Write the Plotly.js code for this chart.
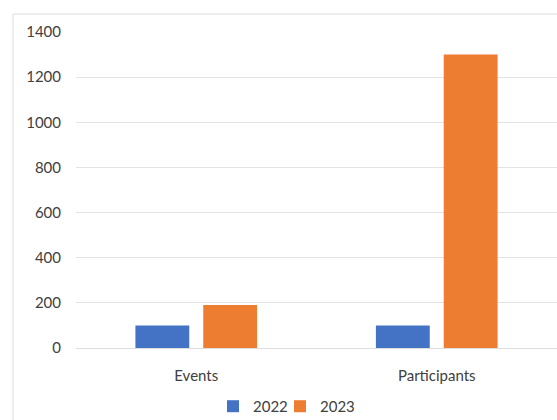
<!DOCTYPE html>
<html><head><meta charset="utf-8">
<script src="https://cdn.plot.ly/plotly-3.0.1.min.js"></script>
<style>html,body{margin:0;padding:0;background:#fff;}#chart{width:557px;height:420px;}</style>
</head><body><div id="chart"></div>
<script>
const categories = ["Events", "Participants"];
const series2022 = [100, 100];
const series2023 = [190, 1300];
const yTicks = [0, 200, 400, 600, 800, 1000, 1200, 1400];

const font = {family: "Lato, 'Open Sans', sans-serif", size: 15, color: "#404040"};
const data = [
  {type: "bar", name: "2022", x: categories, y: series2022, marker: {color: "#4472C4"}, hoverinfo: "skip", legend: "legend"},
  {type: "bar", name: "2023", x: categories, y: series2023, marker: {color: "#ED7D31"}, hoverinfo: "skip", legend: "legend2"}
];
const legBase = {orientation: "h", xanchor: "left", y: -0.185, yanchor: "middle", font: font, bgcolor: "rgba(0,0,0,0)"};
const layout = {
  width: 557, height: 420,
  margin: {l: 76, r: 0, t: 32, b: 72, autoexpand: false},
  paper_bgcolor: "#fff", plot_bgcolor: "#fff",
  font: font,
  barmode: "group", bargap: 0.436, bargroupgap: 0.206,
  showlegend: true,
  legend: Object.assign({}, legBase, {x: (213 - 76) / 481}),
  legend2: Object.assign({}, legBase, {x: (280 - 76) / 481}),
  xaxis: {showgrid: false, showline: false, zeroline: false, ticks: "", ticklabelstandoff: 17, tickfont: font, fixedrange: true},
  yaxis: {range: [0, 1400], tickvals: yTicks, showgrid: true, gridcolor: "#e3e3e3", gridwidth: 1, zeroline: true, zerolinecolor: "#dedede", showline: false, ticks: "", ticklabelstandoff: 14, tickfont: font, fixedrange: true},
  shapes: [{type: "rect", xref: "paper", yref: "paper", x0: -0.131, x1: 1.2, y0: -0.4, y1: 1.057, line: {color: "#dcdcdc", width: 1}, fillcolor: "rgba(0,0,0,0)", layer: "below"}]
};
Plotly.newPlot("chart", data, layout, {displayModeBar: false, staticPlot: true});
</script></body></html>
